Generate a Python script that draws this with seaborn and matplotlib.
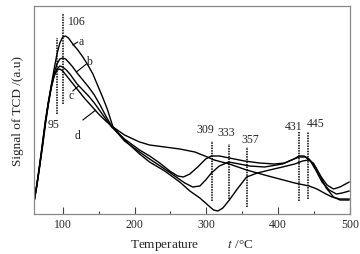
import matplotlib
matplotlib.use("Agg")
import matplotlib.pyplot as plt
import seaborn as sns
import pandas as pd

# curve a
temp_a = [60, 64, 68, 72, 76, 80, 84, 88, 92, 96, 100, 104, 108, 114, 121, 128, 135, 142, 149, 156,
          162, 166, 170, 186, 207, 221, 242, 263, 277, 291, 302, 310, 316, 323, 332, 343, 356, 371,
          388, 406, 423, 434, 442, 449, 457, 467, 477, 486, 499]
sig_a = [12, 28, 48, 68, 90, 110, 128, 145, 160, 171, 177, 178, 176, 170, 164, 157, 149, 140, 128, 116,
         105, 96, 87, 74, 60, 52, 43, 32, 23, 16, 9, 4, 3, 6, 14, 25, 37, 41,
         44, 47, 50, 53, 54, 51, 40, 26, 17, 14, 14]

# curve b
temp_b = [60, 64, 68, 72, 76, 80, 84, 88, 92, 96, 100, 104, 108, 114, 120, 128, 136, 144, 152, 160,
          168, 186, 207, 221, 242, 256, 270, 281, 291, 299, 307, 318, 331, 346, 360, 381, 406, 422,
          429, 438, 445, 453, 461, 471, 481, 489, 499]
sig_b = [12, 29, 49, 71, 93, 112, 128, 141, 150, 155, 156, 155, 152, 147, 141, 134, 127, 119, 109, 98,
         88, 73, 62, 55, 45, 38, 31, 27, 28, 34, 41, 48, 52, 50, 48, 47, 50, 55,
         57, 57, 53, 43, 32, 24, 20, 21, 23]

# curve c
temp_c = [60, 64, 68, 72, 76, 80, 84, 88, 92, 96, 100, 105, 110, 115, 120, 128, 136, 144, 152, 160,
          168, 186, 207, 221, 235, 249, 260, 268, 277, 288, 299, 307, 318, 332, 353, 374, 395, 409,
          422, 429, 436, 443, 452, 460, 468, 477, 486, 499]
sig_c = [12, 29, 49, 70, 92, 110, 126, 138, 145, 148, 147, 144, 140, 135, 130, 124, 118, 111, 103, 95,
         87, 75, 64, 58, 51, 43, 38, 37, 40, 47, 55, 58, 58, 56, 53, 51, 50, 51,
         55, 58, 58, 55, 47, 37, 29, 25, 27, 32]

# curve d
temp_d = [60, 64, 68, 72, 76, 80, 84, 88, 92, 96, 100, 110, 120, 130, 140, 150, 160, 168, 186, 207,
          221, 242, 263, 284, 298, 311, 332, 356, 381, 402, 423, 443, 454, 464, 475, 486, 499]
sig_d = [13, 30, 50, 72, 94, 112, 127, 138, 144, 145, 143, 134, 125, 116, 108, 100, 93, 88, 79, 72,
         69, 67, 65, 62, 58, 54, 50, 44, 39, 35, 31, 28, 25, 21, 17, 15, 15]

# marked peaks: where the dotted line sits, and the printed value
peak_pos = [100, 92, 307.5, 331, 356, 429.5, 442]
peak_text = ["106", "95", "309", "333", "357", "431", "445"]
peak_top = [200, 176, 73, 70, 67, 82, 82]
peak_bottom = [110, 100, 13, 15, 7, 13, 15]

sns.set_style("white")
plt.rcParams['font.family'] = ['Liberation Serif', 'DejaVu Serif']
plt.rcParams['mathtext.fontset'] = 'stix'

fig = plt.figure(figsize=(3.6, 2.55), dpi=100)
ax = fig.add_axes([34 / 360, 1 - 215 / 255, 316 / 360, 208 / 255])

for t, s in [(temp_a, sig_a), (temp_b, sig_b), (temp_c, sig_c), (temp_d, sig_d)]:
    df = pd.DataFrame({'T': t, 'S': s})
    sns.lineplot(data=df, x='T', y='S', ax=ax, color='black', lw=1.0, sort=False, legend=False)

ax.vlines(peak_pos, peak_bottom, peak_top, colors='black', linestyles=(0, (1, 0.7)), lw=1.1)

fs = 8.5
ax.text(107, 193, peak_text[0], fontsize=fs, va='center', ha='left')
ax.text(79.5, 90, peak_text[1], fontsize=fs, va='center', ha='left')
ax.text(299, 85, peak_text[2], fontsize=fs, va='center', ha='center')
ax.text(327, 82, peak_text[3], fontsize=fs, va='center', ha='center')
ax.text(361, 75, peak_text[4], fontsize=fs, va='center', ha='center')
ax.text(421, 88, peak_text[5], fontsize=fs, va='center', ha='center')
ax.text(452, 91, peak_text[6], fontsize=fs, va='center', ha='center')

# curve labels with leader lines
leaders = [((114, 169), (121, 172), (122, 173), 'a'),
           ((119, 142), (133, 150), (133, 153), 'b'),
           ((122, 128), (114, 123), (112, 119), 'c'),
           ((146, 104), (128, 94), (121, 79), 'd')]
for p0, p1, pt, lab in leaders:
    ax.plot([p0[0], p1[0]], [p0[1], p1[1]], color='black', lw=0.8)
    ax.text(pt[0], pt[1], lab, fontsize=fs, va='center', ha='left' if lab in 'ab' else 'center')

ax.set_xlim(60, 500)
ax.set_ylim(0, 208)
ax.set_xticks([100, 200, 300, 400, 500])
ax.set_xticks([150, 250, 350, 450], minor=True)
ax.set_yticks([])
ax.tick_params(axis='x', which='major', direction='in', length=5, width=0.8, color='#444444',
               labelsize=fs, pad=3, bottom=True)
ax.tick_params(axis='x', which='minor', direction='in', length=2.5, width=0.8, color='#444444', bottom=True)
for sp in ax.spines.values():
    sp.set_color('#888888')
    sp.set_linewidth(0.9)

ax.set_xlabel('Temperature         $t$ /°C', fontsize=9.5, labelpad=5)
ax.set_ylabel('Signal of TCD /(a.u)', fontsize=9.5, labelpad=7)

fig.savefig('out.png', dpi=100)
